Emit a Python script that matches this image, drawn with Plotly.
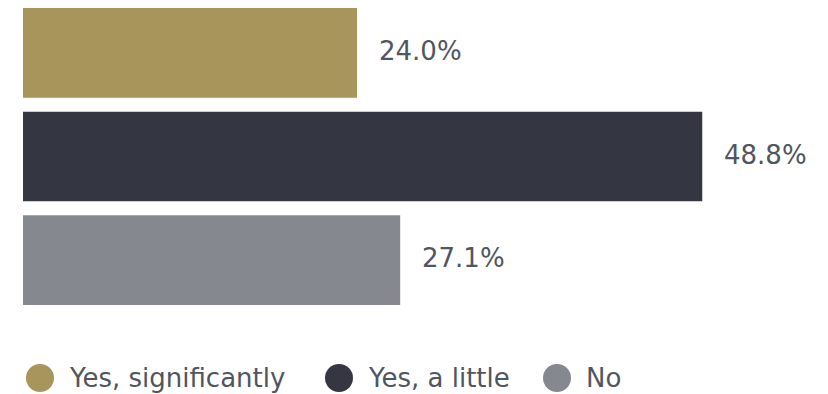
import plotly.graph_objects as go

categories = ["Yes, significantly", "Yes, a little", "No"]
values = [24.0, 48.8, 27.1]
colors = ["#A8955C", "#343742", "#868890"]
labels = ["24.0%", "48.8%", "27.1%"]

FONT = "DejaVu Sans"
TXT = "#50555f"
FS = 26

fig = go.Figure()
fig.add_trace(go.Bar(
    y=categories, x=values, orientation="h",
    marker=dict(color=colors, line=dict(width=0)),
    showlegend=False, hoverinfo="skip",
))

for c, v, t in zip(categories, values, labels):
    fig.add_annotation(x=v, y=c, xref="x", yref="y", text=t, showarrow=False,
                       xanchor="left", xshift=20, yshift=2,
                       font=dict(family=FONT, size=FS, color=TXT))

# legend drawn in paper/pixel coordinates
leg_x = [40, 339, 557]
leg_y = 378
W, H = 828, 394
ml, mr, mt, mb = 23, 13, 1, 82
pw, ph = W - ml - mr, H - mt - mb
def px2paper_x(px):
    return (px - ml) / pw
def px2paper_y(py):
    return (H - mb - py) / ph
r = 14
for c, col, cx in zip(categories, colors, leg_x):
    fig.add_shape(type="circle", xref="paper", yref="paper",
                  x0=px2paper_x(cx - r), x1=px2paper_x(cx + r),
                  y0=px2paper_y(leg_y + r), y1=px2paper_y(leg_y - r),
                  fillcolor=col, line=dict(width=0))
    fig.add_annotation(x=px2paper_x(cx + r + 13), y=px2paper_y(leg_y), xref="paper", yref="paper",
                       text=c, showarrow=False, xanchor="left", yanchor="middle",
                       font=dict(family=FONT, size=FS, color=TXT))

fig.update_layout(
    width=W, height=H,
    margin=dict(l=ml, r=mr, t=mt, b=mb),
    paper_bgcolor="white", plot_bgcolor="white",
    bargap=0.135,
    xaxis=dict(range=[0, 56.9], visible=False, fixedrange=True),
    yaxis=dict(categoryorder="array", categoryarray=categories, range=[2.5, -0.5],
               visible=False, fixedrange=True),
    showlegend=False,
)
fig.write_html("out.html")
